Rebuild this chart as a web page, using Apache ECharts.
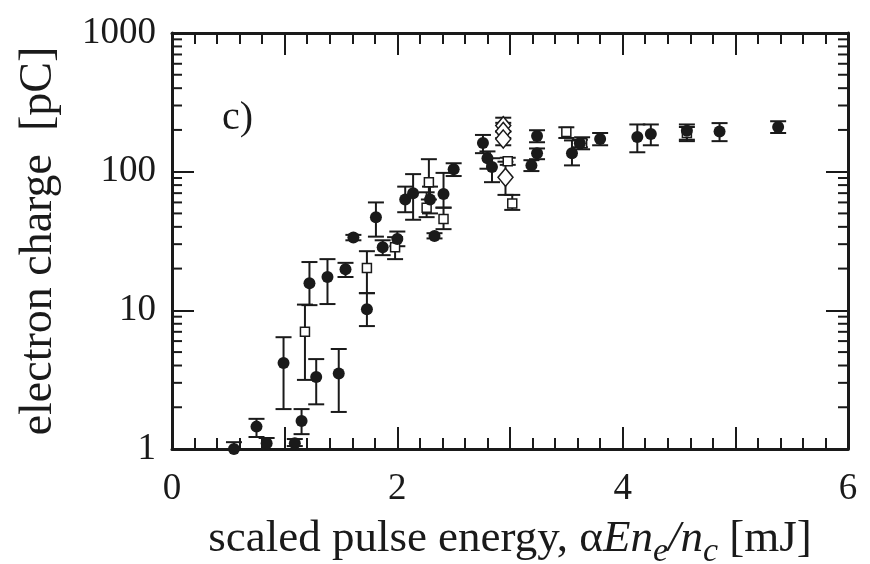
<!DOCTYPE html>
<html><head><meta charset="utf-8">
<script src="https://cdn.jsdelivr.net/npm/echarts@6/dist/echarts.min.js"></script>
<style>html,body{margin:0;padding:0;background:#fff}#c{width:870px;height:564px}</style>
</head><body><div id="c"></div>
<script>
// ---- data ----
const dotX  = [0.55,0.75,0.84,0.99,1.09,1.15,1.22,1.28,1.38,1.48,1.54,1.61,1.73,1.81,1.87,2.00,2.07,2.14,2.29,2.33,2.41,2.50,2.76,2.80,2.84,3.19,3.24,3.24,3.55,3.62,3.80,4.13,4.25,4.57,4.86,5.38];
const dotY  = [1.0,1.45,1.1,4.17,1.1,1.59,15.7,3.3,17.4,3.5,19.8,33.5,10.2,47,28.5,32.7,63,70,63,34.3,69,104,161,125,108,111,136,181,136,160,172,178,187,197,195,210];
const dotLo = [0.9,1.22,1.0,1.94,1.05,1.28,10.9,2.1,11.1,1.85,17.4,32,7.7,34,25,29,51,45,50,33,55,93,136,105,84,101,123,163,111,150,155,138,155,166,166,190];
const dotHi = [1.12,1.65,1.2,6.4,1.18,1.94,22.3,4.45,23.4,5.26,22,35,13.3,60,32,37,78,96,78,36,98,115,184,140,125,121,147,199,168,170,190,219,219,219,224,231];

const sqX  = [1.18,1.73,1.98,2.26,2.28,2.41,2.98,3.02,3.50,3.64,4.57];
const sqY  = [7.0,20.2,28.5,55,84,45.5,119,59,193,160,190];
const sqLo = [3.15,13.3,23.4,47,63,38.5,112,53,175,145,170];
const sqHi = [11.0,26.7,33.7,71,123,55,126,68,209,177,210];

const dmX  = [2.94,2.94,2.94,2.96];
const dmY  = [215,195,172,91];
const dmLo = [195,175,155,68];
const dmHi = [245,225,195,118];

const xMin = 0, xMax = 6, xInterval = 1;
const xLabels = ['0','2','4','6'];
const yMin = 1, yMax = 1000;
const yMinorTicks = [2,3,4,5,6,7,8,9,20,30,40,50,60,70,80,90,200,300,400,500,600,700,800,900];

// ---- build ----
const zip3 = (x, lo, hi) => x.map((v, i) => [v, lo[i], hi[i]]);
const zip2 = (x, y) => x.map((v, i) => [v, y[i]]);
const INK = '#1a1a1a';
const serif = 'Liberation Serif';

function errRender(params, api) {
  const x = api.value(0);
  const p1 = api.coord([x, api.value(1)]);
  const p2 = api.coord([x, api.value(2)]);
  const w = 8;
  const st = { stroke: INK, lineWidth: 2 };
  return { type: 'group', children: [
    { type: 'line', shape: { x1: p1[0], y1: p1[1], x2: p2[0], y2: p2[1] }, style: st },
    { type: 'line', shape: { x1: p1[0] - w, y1: p1[1], x2: p1[0] + w, y2: p1[1] }, style: st },
    { type: 'line', shape: { x1: p2[0] - w, y1: p2[1], x2: p2[0] + w, y2: p2[1] }, style: st }
  ]};
}

function minorRenderSide(xEdge, dir) {
  return function (params, api) {
    const p = api.coord([xEdge, api.value(1)]);
    const x0 = dir > 0 ? p[0] : p[0] - 10;
    return { type: 'rect', shape: { x: x0, y: p[1] - 1, width: 10, height: 2 }, style: { fill: INK } };
  };
}

const axisCommonX = {
  type: 'value', min: xMin, max: xMax, interval: xInterval,
  axisLine: { show: true, onZero: false, lineStyle: { color: INK, width: 3 } },
  axisTick: { show: true, inside: true, length: 22, lineStyle: { color: INK, width: 2 } },
  minorTick: { show: true, splitNumber: 5, length: 11, lineStyle: { color: INK, width: 2 } },
  splitLine: { show: false }
};
const axisCommonY = {
  type: 'log', logBase: 10, min: yMin, max: yMax,
  axisLine: { show: true, onZero: false, lineStyle: { color: INK, width: 3 } },
  axisTick: { show: true, inside: true, length: 22, lineStyle: { color: INK, width: 2 } },
  splitLine: { show: false }
};

const option = {
  animation: false,
  backgroundColor: '#fff',
  grid: { left: 172, right: 22, top: 33, bottom: 115, containLabel: false, outerBoundsMode: 'none' },
  xAxis: [
    Object.assign({}, axisCommonX, {
      position: 'bottom',
      axisLabel: { show: true, margin: 22, color: INK, fontFamily: serif, fontSize: 37,
        formatter: v => (xLabels.indexOf(String(v)) >= 0 ? String(v) : '') },
      name: '{n|scaled pulse energy, α}{i|En}{s|e}{i|/n}{s|c}{n| [mJ]}',
      nameLocation: 'middle', nameGap: 60,
      nameTextStyle: { rich: {
        n: { fontFamily: serif, fontSize: 45, color: INK },
        i: { fontFamily: serif, fontSize: 45, fontStyle: 'italic', color: INK },
        s: { fontFamily: serif, fontSize: 34, fontStyle: 'italic', color: INK, padding: [26, 0, 0, 0] }
      } }
    }),
    Object.assign({}, axisCommonX, { position: 'top', axisLabel: { show: false } })
  ],
  yAxis: [
    Object.assign({}, axisCommonY, {
      position: 'left',
      axisLabel: { show: true, margin: 16, color: INK, fontFamily: serif, fontSize: 37,
        padding: [0, 0, 16, 0], formatter: v => String(Math.round(v)) },
      name: 'electron charge  [pC]', nameLocation: 'middle', nameGap: 110, nameRotate: 90,
      nameTextStyle: { fontFamily: serif, fontSize: 46, color: INK } }),
    Object.assign({}, axisCommonY, { position: 'right', axisLabel: { show: false } })
  ],
  graphic: [
    { type: 'text', left: 222, top: 98, style: { text: 'c)', font: '40px "Liberation Serif"', fill: INK } }
  ],
  series: [
    { type: 'custom', renderItem: minorRenderSide(xMin, 1), data: yMinorTicks.map(v => [xMin, v]), clip: false, silent: true, z: 5 },
    { type: 'custom', renderItem: minorRenderSide(xMax, -1), data: yMinorTicks.map(v => [xMax, v]), clip: false, silent: true, z: 5 },
    { type: 'custom', renderItem: errRender, data: zip3(dotX, dotLo, dotHi), clip: true, z: 2,
      encode: { x: 0, y: [1, 2] } },
    { type: 'custom', renderItem: errRender, data: zip3(sqX, sqLo, sqHi), clip: true, z: 2,
      encode: { x: 0, y: [1, 2] } },
    { type: 'custom', renderItem: errRender, data: zip3(dmX, dmLo, dmHi), clip: true, z: 2,
      encode: { x: 0, y: [1, 2] } },
    { type: 'scatter', data: zip2(sqX, sqY), symbol: 'rect', symbolSize: 9, z: 3,
      itemStyle: { color: '#fff', borderColor: INK, borderWidth: 1.5, opacity: 1 } },
    { type: 'scatter', data: zip2(dmX, dmY), symbol: 'diamond', symbolSize: [15, 18], z: 3,
      itemStyle: { color: '#fff', borderColor: INK, borderWidth: 1.5, opacity: 1 } },
    { type: 'scatter', data: zip2(dotX, dotY), symbol: 'circle', symbolSize: 12, z: 4,
      itemStyle: { color: INK, opacity: 1 } }
  ]
};

const chart = echarts.init(document.getElementById('c'), null, { renderer: 'canvas' });
chart.setOption(option);
</script>
</body></html>
